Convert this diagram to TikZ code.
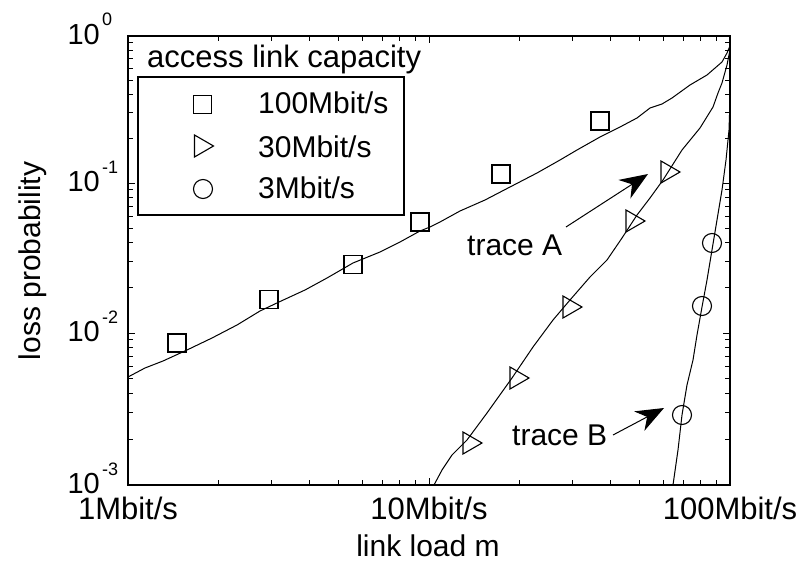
\documentclass[tikz,border=0pt]{standalone}
\usepackage{fontspec}
\setmainfont{Liberation Sans}
\usetikzlibrary{arrows.meta}
\begin{document}
\begin{tikzpicture}[x=1pt,y=-1pt,
  frameline/.style={line width=1.6pt},
  tickline/.style={line width=1pt},
  curve/.style={line width=1pt, line join=round},
  markstroke/.style={line width=1.1pt, line join=miter},
  lbl/.style={inner sep=0pt, font=\fontsize{30}{36}\selectfont},
  axlbl/.style={inner sep=0pt, font=\fontsize{31}{37}\selectfont},
  declbl/.style={inner sep=0pt, font=\fontsize{29}{35}\selectfont},
  explbl/.style={inner sep=0pt, font=\fontsize{18}{22}\selectfont},
  pointer/.style={line width=1pt, -{Stealth[length=28pt,width=22pt,inset=9pt]}},
  sqmark/.pic={\draw[markstroke] (-9,-9) rectangle (9,9);},
  trimark/.pic={\draw[markstroke] (-9.5,-11) -- (9.5,0) -- (-9.5,11) -- cycle;},
  cirmark/.pic={\draw[markstroke] (0,0) circle (9.5);}
]
% canvas
\fill[white] (0,0) rectangle (807,562);
\useasboundingbox (0,0) rectangle (807,562);

% ---- axis ticks (inward, on all four sides)
\foreach \d in {0,1}{
  \foreach \k in {2,...,9}{
    \pgfmathsetmacro\xx{128+301*(\d+log10(\k))}
    \draw[tickline] (\xx,485) -- ++(0,-5);
    \draw[tickline] (\xx,36) -- ++(0,5);
  }
}
\draw[tickline] (429,485) -- ++(0,-7);
\draw[tickline] (429,36) -- ++(0,7);
\foreach \ytop/\ybot in {36/183,183/333,333/485}{
  \foreach \k in {2,...,9}{
    \pgfmathsetmacro\yy{\ybot-(\ybot-\ytop)*log10(\k)}
    \draw[tickline] (128,\yy) -- ++(5,0);
    \draw[tickline] (730,\yy) -- ++(-5,0);
  }
}
\foreach \yy in {183,333}{
  \draw[tickline] (128,\yy) -- ++(7,0);
  \draw[tickline] (730,\yy) -- ++(-7,0);
}

% ---- tick labels
\foreach \yy/\ex in {36/0,183/-1,333/-2,485/-3}{
  \node[declbl, anchor=base east] at (100,\yy+8) {10};
  \node[explbl, anchor=base west] at (102,\yy-10) {\ex};
}
\node[axlbl, anchor=base] (x1) at (128,519) {1Mbit/s};
\node[axlbl, anchor=base] (x10) at (429,519) {10Mbit/s};
\node[axlbl, anchor=base] (x100) at (730,519) {100Mbit/s};

% ---- axis titles
\node[lbl, anchor=base] (xtitle) at (428,556) {link load m};
\node[lbl, anchor=base, rotate=90] (ytitle) at (41,261) {loss probability};

% ---- model curves
\draw[curve] (128,377) -- (145,368) -- (163,361) -- (187,350) -- (212,338)
  -- (237,325) -- (260,311) -- (279,302) -- (305,290) -- (327,278) -- (353,263)
  -- (380,252) -- (400,242) -- (420,231) -- (430,227) -- (440,222) -- (460,211)
  -- (485,200) -- (510,187) -- (537,173) -- (560,160) -- (577,150) -- (600,137)
  -- (620,127) -- (637,118) -- (650,108) -- (662,104) -- (672,98) -- (690,85)
  -- (707,75) -- (722,62) -- (727,53) -- (730,46);
\draw[curve] (434,485) -- (442,470) -- (452,455) -- (467,440) -- (487,413)
  -- (512,378) -- (533,347) -- (553,320) -- (570,300) -- (590,277) -- (607,260)
  -- (622,238) -- (637,215) -- (650,198) -- (663,180) -- (682,150) -- (700,128)
  -- (713,107) -- (718,93) -- (722,83) -- (727,65) -- (730,50);
\draw[curve] (673,485) -- (678,450) -- (682,415) -- (687,385) -- (693,360)
  -- (697,335) -- (702,307) -- (707,280) -- (712,250) -- (717,220) -- (722,190)
  -- (726,160) -- (729,130) -- (730,100) -- (730,45);

% ---- measured points
\foreach \px/\py in {177/343,269/299.5,353/264.5,420/222,501/174,600/121}
  \pic at (\px,\py) {sqmark};
\foreach \px/\py in {472.5/443,519.5/378,572.5/307,635.5/221,670.5/172}
  \pic at (\px,\py) {trimark};
\foreach \px/\py in {682/415,702/306,712/243}
  \pic at (\px,\py) {cirmark};

% ---- frame
\draw[frameline] (128,36) rectangle (730,485);

% ---- legend
\node[axlbl, anchor=base west] (legtitle) at (147,67) {access link capacity};
\draw[frameline, fill=white] (138,77) rectangle (404,215);
\pic at (202.5,104.5) {sqmark};
\pic at (204,146) {trimark};
\pic at (203,189) {cirmark};
\node[lbl, anchor=base west] (leg100) at (258,113) {100Mbit/s};
\node[lbl, anchor=base west] (leg30) at (258,157) {30Mbit/s};
\node[lbl, anchor=base west] (leg3) at (258,198) {3Mbit/s};

% ---- trace annotations
\node[lbl, anchor=base west] (traceA) at (467,255) {trace A};
\coordinate (tailA) at (566,227);
\coordinate (tipA) at (648,174);
\draw[pointer] (tailA) -- (tipA);
\node[lbl, anchor=base west] (traceB) at (512,445) {trace B};
\coordinate (tailB) at (613,435);
\coordinate (tipB) at (664,408);
\draw[pointer] (tailB) -- (tipB);
\end{tikzpicture}
\end{document}
